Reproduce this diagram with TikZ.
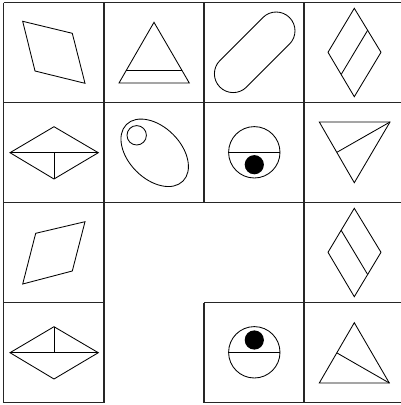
\documentclass[tikz,border=0pt]{standalone}
\usetikzlibrary{calc}
\begin{document}
\begin{tikzpicture}[x=1pt,y=-1pt,
  gridline/.style={line width=1.1pt,black!85},
  figline/.style={line width=0.85pt,black,line join=miter},
  dot/.style={fill=black}]
\useasboundingbox (0,0) rectangle (401,405);
% ---------- grid ----------
\draw[gridline] (3.5,2.5) -- (404,2.5);
\draw[gridline] (3.5,102.5) -- (404,102.5);
\draw[gridline] (3.5,202.5) -- (404,202.5);
\draw[gridline] (3.5,302.5) -- (104,302.5);
\draw[gridline] (204,302.5) -- (404,302.5);
\draw[gridline] (3.5,402.5) -- (104,402.5);
\draw[gridline] (204,402.5) -- (404,402.5);
\draw[gridline] (3.5,2.5) -- (3.5,402.5);
\draw[gridline] (104,2.5) -- (104,402.5);
\draw[gridline] (204,2.5) -- (204,202.5);
\draw[gridline] (204,302.5) -- (204,402.5);
\draw[gridline] (304,2.5) -- (304,402.5);
\draw[gridline] (404,2.5) -- (404,402.5);
% ---------- row 1 ----------
% parallelogram
\draw[figline] (22.7,21.3) -- (72.3,33.3) -- (85,83.3) -- (35,71) -- cycle;
% triangle with base band
\coordinate (t1a) at (154,22.3);
\coordinate (t1l) at (119,83);
\coordinate (t1r) at (189.3,83);
\draw[figline] (t1a) -- (t1l) -- (t1r) -- cycle;
\draw[figline] ($(t1a)!0.786!(t1l)$) -- ($(t1a)!0.786!(t1r)$);
% stadium
\begin{scope}[shift={(254.7,52.3)},rotate=45]
\draw[figline] (-30.4pt,-18.8pt) -- (30.4pt,-18.8pt)
  arc[start angle=-90,end angle=90,radius=18.8pt]
  -- (-30.4pt,18.8pt)
  arc[start angle=90,end angle=270,radius=18.8pt] -- cycle;
\end{scope}
% diamond with line
\coordinate (d1t) at (354.3,8.3);
\coordinate (d1r) at (381,52.3);
\coordinate (d1b) at (354.3,96.7);
\coordinate (d1l) at (328,52.3);
\draw[figline] (d1t) -- (d1r) -- (d1b) -- (d1l) -- cycle;
\draw[figline] ($(d1t)!0.5!(d1r)$) -- ($(d1l)!0.5!(d1b)$);
% ---------- row 2 ----------
% flat diamond, line down
\coordinate (k1l) at (10,152.7);
\coordinate (k1t) at (54,126.7);
\coordinate (k1r) at (98.3,152.7);
\coordinate (k1b) at (54,179);
\draw[figline] (k1l) -- (k1t) -- (k1r) -- (k1b) -- cycle;
\draw[figline] (k1l) -- (k1r);
\draw[figline] (54,152.7) -- (k1b);
% ellipse with small circle
\draw[figline,rotate around={-45:(154.7,152.8)}] (154.7,152.8) ellipse[x radius=40pt,y radius=26pt];
\draw[figline] (136.7,135.3) circle[radius=9.7pt];
% circle with dot below
\draw[figline] (254.3,152.3) circle[radius=25.7pt];
\draw[figline] (228.6,152.3) -- (280,152.3);
\fill[dot] (254.3,164.7) circle[radius=9.6pt];
% inverted triangle
\coordinate (i1l) at (319.3,122);
\coordinate (i1r) at (390,122);
\coordinate (i1b) at (354.3,182.7);
\draw[figline] (i1l) -- (i1r) -- (i1b) -- cycle;
\draw[figline] (i1r) -- ($(i1l)!0.5!(i1b)$);
% ---------- row 3 ----------
\draw[figline] (35.7,233.3) -- (85,221.7) -- (72.3,271) -- (22.7,284) -- cycle;
\coordinate (d2t) at (354.3,208.3);
\coordinate (d2r) at (381,252.3);
\coordinate (d2b) at (354.3,296.7);
\coordinate (d2l) at (328,252.3);
\draw[figline] (d2t) -- (d2r) -- (d2b) -- (d2l) -- cycle;
\draw[figline] ($(d2t)!0.5!(d2l)$) -- ($(d2r)!0.5!(d2b)$);
% ---------- row 4 ----------
\coordinate (k2l) at (10,352.7);
\coordinate (k2t) at (54,326.7);
\coordinate (k2r) at (98.3,352.7);
\coordinate (k2b) at (54,379);
\draw[figline] (k2l) -- (k2t) -- (k2r) -- (k2b) -- cycle;
\draw[figline] (k2l) -- (k2r);
\draw[figline] (k2t) -- (54,352.7);
% circle with dot above
\draw[figline] (254.3,352.3) circle[radius=25.7pt];
\draw[figline] (228.6,352.3) -- (280,352.3);
\fill[dot] (254.3,340) circle[radius=9.6pt];
% triangle with line
\coordinate (t2a) at (354.3,322.7);
\coordinate (t2l) at (319.3,383);
\coordinate (t2r) at (389.3,383);
\draw[figline] (t2a) -- (t2l) -- (t2r) -- cycle;
\draw[figline] (t2r) -- ($(t2a)!0.5!(t2l)$);
\end{tikzpicture}
\end{document}
